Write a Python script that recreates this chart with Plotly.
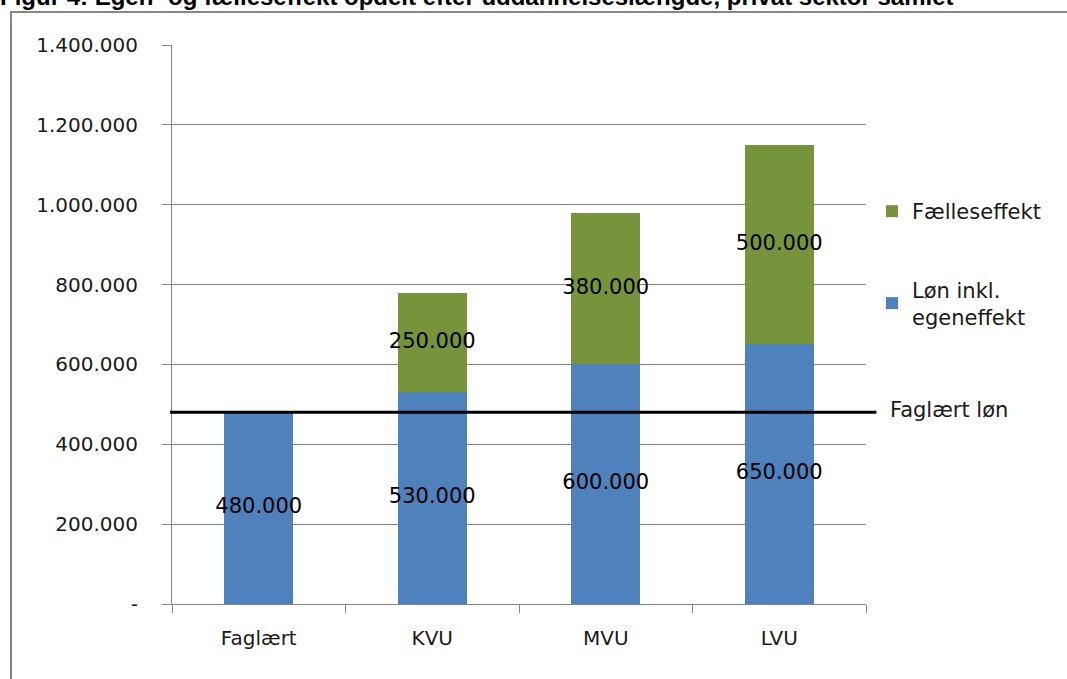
import plotly.graph_objects as go

categories = ["Faglært", "KVU", "MVU", "LVU"]
lon_egen = [480000, 530000, 600000, 650000]
faelles = [None, 250000, 380000, 500000]
faglaert_lon = 480000
y_tickvals = [0, 200000, 400000, 600000, 800000, 1000000, 1200000, 1400000]
y_ticktext = ["-", "200.000", "400.000", "600.000", "800.000", "1.000.000", "1.200.000", "1.400.000"]

BLUE = "#4F81BD"
GREEN = "#77933C"
FONT = "DejaVu Sans"
TXT = "#1a1a1a"


def fmt(v):
    return f"{v:,.0f}".replace(",", ".")


fig = go.Figure()
fig.add_trace(go.Bar(name="Løn inkl.<br>egeneffekt", x=categories, y=lon_egen,
                     marker=dict(color=BLUE, line=dict(width=0)), legendgroup="a", legendrank=2))
fig.add_trace(go.Bar(name="Fælleseffekt", x=categories, y=faelles,
                     marker=dict(color=GREEN, line=dict(width=0)), legendgroup="b", legendrank=1))

# data labels at segment centres
lab_x, lab_y, lab_t = [], [], []
for c, b, f in zip(categories, lon_egen, faelles):
    lab_x.append(c); lab_y.append(b / 2); lab_t.append(fmt(b))
    if f:
        lab_x.append(c); lab_y.append(b + f / 2); lab_t.append(fmt(f))
fig.add_trace(go.Scatter(x=lab_x, y=lab_y, text=lab_t, mode="text",
                         textfont=dict(family=FONT, size=21, color="#000000"),
                         showlegend=False, hoverinfo="skip"))

# Faglært løn reference line
fig.add_shape(type="line", xref="paper", yref="y", x0=-0.003, x1=1.015,
              y0=faglaert_lon, y1=faglaert_lon, line=dict(color="#000000", width=3))
fig.add_annotation(xref="paper", yref="y", x=(888 - 172) / 694, y=faglaert_lon, yshift=2,
                   text="Faglært løn",
                   showarrow=False, xanchor="left", yanchor="middle",
                   font=dict(family=FONT, size=21, color=TXT))

# chart border
fig.add_shape(type="rect", xref="paper", yref="paper",
              x0=-161 / 694, x1=1.5, y0=-0.5, y1=1 + 33 / 559,
              line=dict(color="#868686", width=2), fillcolor="rgba(0,0,0,0)", layer="below")

# clipped title
fig.add_annotation(xref="paper", yref="paper", x=-174 / 694, y=1 + (45 - 12) / 559,
                   text="<b>Figur 4: Egen- og fælleseffekt opdelt efter uddannelseslængde, privat sektor samlet</b>",
                   showarrow=False, xanchor="left", yanchor="bottom",
                   font=dict(family="Liberation Sans", size=24, color="#000000"))

fig.update_layout(
    width=1067, height=679,
    margin=dict(l=172, r=201, t=45, b=75),
    barmode="stack", bargap=0.6,
    plot_bgcolor="white", paper_bgcolor="white",
    font=dict(family=FONT, size=20, color=TXT),
    legend=dict(x=(872 - 172) / 694, y=1 - (191 - 45) / 559, xanchor="left", yanchor="top",
                traceorder="grouped", tracegroupgap=48,
                font=dict(family=FONT, size=21, color=TXT),
                bgcolor="rgba(0,0,0,0)"),
    xaxis=dict(showline=True, linecolor="#868686", linewidth=1, ticks="outside",
               tickson="boundaries", ticklen=8, tickcolor="#868686",
               tickfont=dict(family=FONT, size=20, color=TXT), ticklabelstandoff=16),
    yaxis=dict(range=[0, 1400000], tickvals=y_tickvals, ticktext=y_ticktext,
               showline=True, linecolor="#868686", linewidth=1, ticks="outside",
               ticklen=9, tickcolor="#868686", showgrid=True, gridcolor="#868686",
               gridwidth=1, zeroline=False,
               tickfont=dict(family=FONT, size=20, color=TXT), ticklabelstandoff=20),
)

fig.write_html("out.html", config={"displayModeBar": False},
               post_script="document.body.style.margin='0';")
